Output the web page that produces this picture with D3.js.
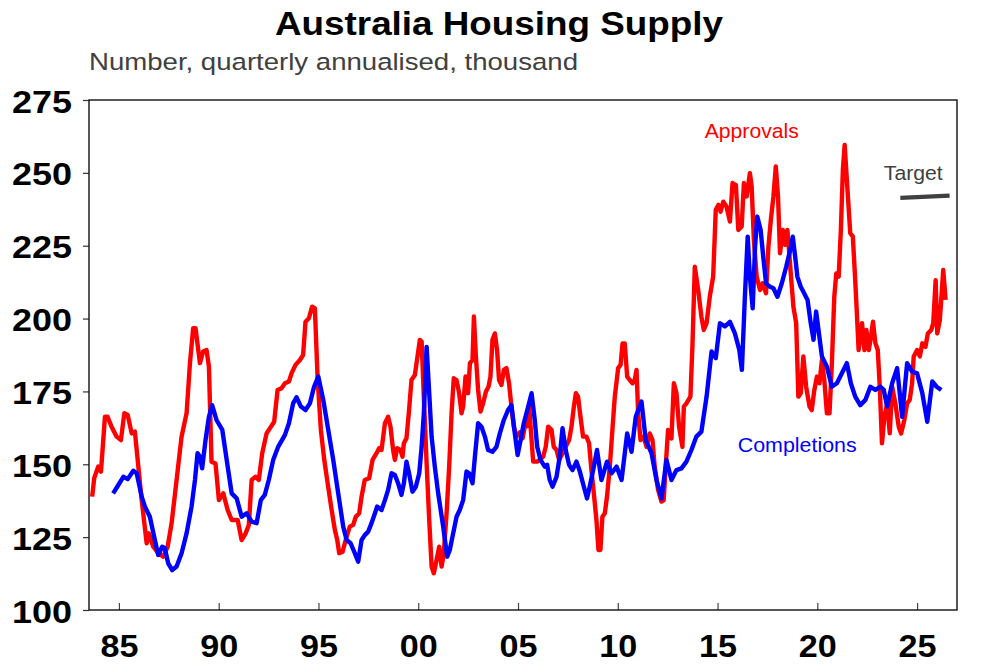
<!DOCTYPE html>
<html>
<head>
<meta charset="utf-8">
<script src="https://cdn.jsdelivr.net/npm/d3@7"></script>
<style>
  html, body { margin: 0; padding: 0; background: #ffffff; }
  svg { display: block; }
  text { font-family: "Liberation Sans", Arial, Helvetica, sans-serif; }
</style>
</head>
<body>
<div id="chart"></div>
<script>
// ---------------- DATA ----------------
const chartTitle = "Australia Housing Supply";
const chartSubtitle = "Number, quarterly annualised, thousand";

const yTicks = [100, 125, 150, 175, 200, 225, 250, 275];
const xTickYears = [1985, 1990, 1995, 2000, 2005, 2010, 2015, 2020, 2025];
const xTickLabels = ["85", "90", "95", "00", "05", "10", "15", "20", "25"];

// Dwelling approvals, annualised, thousand  [decimal year, value]
const approvals = [
  [1983.66,138.9],[1983.76,145.2],[1983.96,149.2],[1984.10,147.5],[1984.30,166.3],[1984.43,166.3],
  [1984.63,162.9],[1984.88,159.5],[1985.10,158.3],[1985.27,167.5],[1985.44,166.9],[1985.64,160.6],
  [1985.80,161.2],[1985.94,151.5],[1986.14,137.7],[1986.39,122.9],[1986.50,126.3],[1986.72,121.7],
  [1986.97,119.5],[1987.22,118.3],[1987.44,121.7],[1987.64,129.8],[1987.89,144.6],[1988.14,159.5],
  [1988.39,167.5],[1988.56,184.7],[1988.72,196.7],[1988.84,196.7],[1989.06,184.7],[1989.22,188.7],
  [1989.39,189.2],[1989.51,183.5],[1989.64,150.9],[1989.84,150.3],[1990.01,137.7],[1990.23,140.0],
  [1990.45,134.3],[1990.65,130.9],[1990.95,130.9],[1991.15,124.0],[1991.35,126.3],[1991.51,129.2],
  [1991.65,144.6],[1991.85,145.7],[1992.01,144.6],[1992.18,153.8],[1992.40,160.6],[1992.57,162.4],
  [1992.78,164.6],[1992.95,175.5],[1993.15,176.1],[1993.32,177.8],[1993.52,178.4],[1993.65,181.2],
  [1993.85,184.1],[1994.07,185.8],[1994.23,187.5],[1994.35,198.9],[1994.52,200.1],[1994.68,204.1],
  [1994.82,203.5],[1994.96,178.9],[1995.12,161.8],[1995.29,151.5],[1995.46,143.5],[1995.66,134.3],
  [1995.82,127.5],[1995.94,124.0],[1996.04,119.5],[1996.21,120.0],[1996.41,125.2],[1996.57,128.6],
  [1996.74,129.2],[1996.87,132.0],[1997.04,133.2],[1997.16,138.9],[1997.32,144.6],[1997.54,145.2],
  [1997.71,151.5],[1997.91,153.8],[1998.04,155.5],[1998.16,154.9],[1998.33,164.1],[1998.49,166.3],
  [1998.61,162.9],[1998.74,154.9],[1998.83,151.5],[1998.94,155.5],[1999.11,154.9],[1999.21,152.6],
  [1999.28,157.2],[1999.41,158.9],[1999.54,168.6],[1999.66,178.9],[1999.83,180.6],[1999.95,186.4],
  [2000.08,192.7],[2000.17,192.1],[2000.28,173.2],[2000.42,150.3],[2000.55,130.9],[2000.67,114.9],
  [2000.78,112.6],[2000.92,117.2],[2001.05,121.7],[2001.17,114.9],[2001.28,119.5],[2001.42,133.2],
  [2001.55,149.2],[2001.67,167.5],[2001.78,179.5],[2001.92,178.9],[2002.05,174.4],[2002.17,167.5],
  [2002.25,169.8],[2002.37,180.1],[2002.50,174.4],[2002.59,184.7],[2002.72,185.8],[2002.79,200.7],
  [2002.89,186.9],[2003.00,175.5],[2003.12,168.1],[2003.25,170.9],[2003.39,174.9],[2003.52,176.6],
  [2003.62,180.1],[2003.72,192.7],[2003.84,194.9],[2003.95,189.2],[2004.05,178.9],[2004.17,177.2],
  [2004.29,182.4],[2004.42,183.0],[2004.55,177.8],[2004.67,169.8],[2004.79,162.9],[2004.92,159.5],
  [2005.09,161.0],[2005.23,158.9],[2005.34,162.9],[2005.46,163.0],[2005.56,169.8],[2005.68,158.3],
  [2005.76,150.9],[2005.96,150.9],[2006.09,151.5],[2006.26,152.6],[2006.39,156.0],[2006.51,162.9],
  [2006.68,161.8],[2006.79,156.0],[2006.93,154.9],[2007.06,151.5],[2007.23,153.8],[2007.39,156.0],
  [2007.56,158.3],[2007.68,162.9],[2007.80,169.8],[2007.90,174.4],[2008.01,173.2],[2008.13,166.3],
  [2008.26,159.5],[2008.43,159.5],[2008.56,157.2],[2008.68,148.0],[2008.80,140.0],[2008.93,130.9],
  [2009.03,120.6],[2009.13,120.6],[2009.23,132.0],[2009.35,133.2],[2009.46,138.9],[2009.60,149.2],
  [2009.73,161.8],[2009.85,173.2],[2010.02,183.0],[2010.14,184.1],[2010.24,191.5],[2010.35,191.5],
  [2010.47,180.1],[2010.60,178.9],[2010.74,177.8],[2010.85,178.9],[2010.94,182.4],[2011.02,167.5],
  [2011.14,158.3],[2011.30,159.5],[2011.44,156.0],[2011.60,160.6],[2011.74,158.3],[2011.85,149.2],
  [2012.02,141.2],[2012.19,137.2],[2012.30,137.7],[2012.40,149.2],[2012.52,161.8],[2012.69,158.9],
  [2012.81,177.8],[2012.94,174.4],[2013.07,162.9],[2013.24,156.0],[2013.31,169.8],[2013.44,170.9],
  [2013.64,173.2],[2013.74,190.3],[2013.86,217.8],[2014.03,209.8],[2014.19,200.7],[2014.31,196.1],
  [2014.45,198.4],[2014.61,207.5],[2014.78,214.4],[2014.91,237.3],[2015.04,239.0],[2015.15,236.7],
  [2015.29,240.1],[2015.45,238.4],[2015.62,233.3],[2015.75,246.5],[2015.92,245.8],[2016.04,230.4],
  [2016.21,231.6],[2016.32,246.5],[2016.46,241.9],[2016.62,249.9],[2016.71,245.3],[2016.82,227.0],
  [2016.96,214.4],[2017.13,209.8],[2017.26,212.1],[2017.43,208.7],[2017.55,224.7],[2017.67,233.8],
  [2017.80,241.9],[2017.92,252.2],[2018.03,241.9],[2018.13,222.4],[2018.27,230.4],[2018.39,225.3],
  [2018.50,230.4],[2018.67,215.5],[2018.80,204.1],[2018.94,198.4],[2019.05,173.2],[2019.17,174.4],
  [2019.30,187.0],[2019.44,176.6],[2019.61,169.8],[2019.72,168.6],[2019.85,175.5],[2019.98,180.1],
  [2020.11,177.8],[2020.23,185.8],[2020.35,178.9],[2020.48,167.5],[2020.61,167.5],[2020.73,184.7],
  [2020.85,207.5],[2020.95,215.5],[2021.07,214.4],[2021.18,230.4],[2021.28,251.0],[2021.37,259.6],
  [2021.48,247.6],[2021.65,229.3],[2021.78,228.1],[2021.90,213.2],[2021.99,200.7],[2022.07,189.2],
  [2022.24,198.4],[2022.36,189.2],[2022.46,196.1],[2022.58,189.2],[2022.69,193.8],[2022.79,198.9],
  [2022.91,191.5],[2023.03,189.2],[2023.13,176.6],[2023.24,157.2],[2023.36,166.3],[2023.50,170.9],
  [2023.63,160.6],[2023.75,176.6],[2023.91,170.9],[2024.08,162.9],[2024.20,160.6],[2024.36,165.2],
  [2024.50,170.9],[2024.63,172.1],[2024.75,177.8],[2024.83,187.0],[2025.00,189.2],[2025.14,187.0],
  [2025.26,191.5],[2025.42,190.3],[2025.54,194.9],[2025.71,196.1],[2025.81,198.4],[2025.93,213.2],
  [2026.01,194.9],[2026.14,199.5],[2026.31,216.7],[2026.43,206.4]
];

// Dwelling completions, annualised, thousand  [decimal year, value]
const completions = [
  [1984.71,140.0],[1984.97,142.9],[1985.22,145.7],[1985.44,144.9],[1985.72,147.8],[1985.89,146.9],
  [1986.14,138.9],[1986.30,135.5],[1986.55,132.0],[1986.80,124.0],[1986.97,118.9],[1987.17,121.7],
  [1987.30,121.2],[1987.47,116.0],[1987.67,113.7],[1987.89,114.9],[1988.14,119.5],[1988.39,126.3],
  [1988.64,135.5],[1988.81,144.6],[1988.94,153.8],[1989.06,152.6],[1989.17,148.6],[1989.34,158.3],
  [1989.51,166.3],[1989.67,170.3],[1989.89,165.2],[1990.18,161.8],[1990.40,151.5],[1990.65,140.0],
  [1990.90,138.3],[1991.15,132.0],[1991.40,133.2],[1991.65,130.3],[1991.90,129.8],[1992.11,137.7],
  [1992.31,139.5],[1992.51,144.6],[1992.73,151.5],[1992.98,156.0],[1993.32,160.1],[1993.52,164.1],
  [1993.73,170.9],[1993.90,173.0],[1994.12,169.8],[1994.35,168.6],[1994.57,170.9],[1994.78,176.6],
  [1994.99,180.1],[1995.24,172.1],[1995.49,161.8],[1995.74,151.5],[1995.99,140.0],[1996.24,128.6],
  [1996.41,124.0],[1996.61,122.9],[1996.82,119.5],[1996.99,116.6],[1997.16,124.0],[1997.32,125.7],
  [1997.49,126.9],[1997.66,129.8],[1997.83,133.2],[1997.94,135.5],[1998.16,134.3],[1998.33,137.7],
  [1998.49,141.2],[1998.66,146.9],[1998.83,146.3],[1998.99,143.5],[1999.16,139.5],[1999.28,143.5],
  [1999.41,150.9],[1999.54,146.9],[1999.71,140.6],[1999.88,142.3],[2000.05,146.9],[2000.17,156.0],
  [2000.28,167.5],[2000.42,190.3],[2000.55,174.4],[2000.67,159.5],[2000.83,149.2],[2001.00,140.0],
  [2001.25,128.6],[2001.45,118.3],[2001.58,120.6],[2001.75,126.3],[2001.92,132.0],[2002.08,134.3],
  [2002.25,137.7],[2002.42,147.5],[2002.55,146.9],[2002.72,143.5],[2002.84,152.6],[2003.00,164.1],
  [2003.17,162.9],[2003.34,159.5],[2003.50,154.9],[2003.72,154.3],[2003.92,156.0],[2004.09,160.6],
  [2004.29,165.2],[2004.50,168.6],[2004.67,170.3],[2004.84,160.6],[2004.98,153.2],[2005.13,158.3],
  [2005.29,164.1],[2005.51,169.8],[2005.68,174.4],[2005.84,165.2],[2005.96,156.0],[2006.13,151.5],
  [2006.34,149.2],[2006.46,149.8],[2006.59,144.6],[2006.73,142.3],[2006.93,145.7],[2007.09,152.6],
  [2007.23,162.4],[2007.39,154.9],[2007.56,149.8],[2007.73,148.0],[2007.93,150.9],[2008.10,147.5],
  [2008.30,142.3],[2008.46,138.3],[2008.63,143.5],[2008.80,149.2],[2008.96,154.9],[2009.18,144.6],
  [2009.46,150.9],[2009.68,146.9],[2009.94,149.2],[2010.19,144.6],[2010.47,160.6],[2010.69,154.3],
  [2010.90,166.3],[2011.19,171.5],[2011.40,158.3],[2011.69,153.8],[2011.94,144.6],[2012.19,138.3],
  [2012.44,151.5],[2012.69,144.6],[2012.94,148.0],[2013.19,148.6],[2013.44,150.9],[2013.69,154.9],
  [2013.94,159.5],[2014.19,161.2],[2014.45,173.2],[2014.70,188.7],[2014.91,186.4],[2015.12,198.4],
  [2015.37,197.3],[2015.62,198.9],[2015.87,194.9],[2016.09,189.2],[2016.22,182.4],[2016.37,207.5],
  [2016.51,228.1],[2016.62,214.4],[2016.76,203.5],[2016.88,224.7],[2016.99,235.0],[2017.16,230.4],
  [2017.29,221.2],[2017.43,212.1],[2017.63,210.9],[2017.80,210.4],[2018.00,207.5],[2018.22,212.1],
  [2018.44,217.8],[2018.64,223.5],[2018.77,228.1],[2018.89,221.2],[2019.00,214.4],[2019.17,210.9],
  [2019.34,208.7],[2019.51,206.4],[2019.67,198.4],[2019.81,192.7],[2019.94,202.4],[2020.06,196.1],
  [2020.23,187.0],[2020.48,183.5],[2020.73,176.6],[2020.98,177.8],[2021.23,181.2],[2021.48,184.7],
  [2021.68,177.8],[2021.90,173.2],[2022.15,170.3],[2022.41,172.1],[2022.66,176.6],[2022.91,175.5],
  [2023.16,176.6],[2023.33,175.5],[2023.50,169.8],[2023.75,177.8],[2024.00,183.0],[2024.25,166.3],
  [2024.50,184.7],[2024.75,181.8],[2025.00,181.2],[2025.26,174.4],[2025.51,164.6],[2025.76,178.4],
  [2025.98,176.6],[2026.21,175.5]
];

// Target (1.2 million over five years)
const target = [[2024.16, 241.4], [2026.63, 242.2]];

// Series labels [text, decimal year, value, colour, width]
const seriesLabels = [
  ["Approvals", 2014.36, 262.0, "#ff0000", 94],
  ["Target", 2023.33, 247.6, "#404040", 59],
  ["Completions", 2016.01, 154.2, "#0000ff", 119]
];

// ---------------- CHART ----------------
const W = 1002, H = 672;
const M = { left: 89, right: 957, top: 100, bottom: 610 };
const FONT = '"Liberation Sans", Arial, Helvetica, sans-serif';

const svg = d3.select("#chart").append("svg")
  .attr("width", W).attr("height", H)
  .attr("viewBox", `0 0 ${W} ${H}`);

svg.append("rect").attr("width", W).attr("height", H).attr("fill", "#ffffff");

const x = d3.scaleLinear().domain([1983.5, 2027.0]).range([M.left, M.right]);
const y = d3.scaleLinear().domain([100, 275]).range([M.bottom, M.top]);

// Title & subtitle
svg.append("text")
  .attr("x", 499).attr("y", 35)
  .attr("text-anchor", "middle")
  .attr("font-size", 32.5).attr("font-weight", "bold")
  .attr("fill", "#000")
  .attr("textLength", 448).attr("lengthAdjust", "spacingAndGlyphs")
  .text(chartTitle);

svg.append("text")
  .attr("x", 89).attr("y", 70.3)
  .attr("font-size", 23.7)
  .attr("fill", "#404040")
  .attr("textLength", 489).attr("lengthAdjust", "spacingAndGlyphs")
  .text(chartSubtitle);

// Axes
const yAxis = d3.axisLeft(y).tickValues(yTicks).tickSize(6).tickSizeOuter(0).tickFormat(d3.format("d"));
const gy = svg.append("g").attr("transform", `translate(${M.left},0)`).call(yAxis);
gy.select(".domain").remove();
gy.selectAll(".tick line").attr("stroke", "#333").attr("stroke-width", 1.2);
gy.selectAll(".tick text")
  .attr("x", -17).attr("dy", null).attr("y", 12)
  .attr("font-family", FONT)
  .attr("font-size", 31.5).attr("font-weight", "bold").attr("fill", "#000")
  .attr("textLength", 60).attr("lengthAdjust", "spacingAndGlyphs");

const xAxis = d3.axisBottom(x).tickValues(xTickYears).tickSizeInner(-7).tickSizeOuter(0)
  .tickFormat((d, i) => xTickLabels[i]);
const gx = svg.append("g").attr("transform", `translate(0,${M.bottom})`).call(xAxis);
gx.select(".domain").remove();
gx.selectAll(".tick line").attr("stroke", "#444").attr("stroke-width", 1.2);
gx.selectAll(".tick text")
  .attr("y", 46.5).attr("dy", null)
  .attr("font-family", FONT)
  .attr("font-size", 31.5).attr("font-weight", "bold").attr("fill", "#000")
  .attr("textLength", 38).attr("lengthAdjust", "spacingAndGlyphs");

// Frame
svg.append("rect")
  .attr("x", M.left).attr("y", M.top)
  .attr("width", M.right - M.left).attr("height", M.bottom - M.top)
  .attr("fill", "none").attr("stroke", "#111").attr("stroke-width", 1.4);

// Lines
const line = d3.line().x(d => x(d[0])).y(d => y(d[1]));

svg.append("path").datum(approvals)
  .attr("d", line).attr("fill", "none")
  .attr("stroke", "#ff0000").attr("stroke-width", 4.4)
  .attr("stroke-linejoin", "round");

svg.append("path").datum(completions)
  .attr("d", line).attr("fill", "none")
  .attr("stroke", "#0000ff").attr("stroke-width", 4.4)
  .attr("stroke-linejoin", "round");

svg.append("path").datum(target)
  .attr("d", line).attr("fill", "none")
  .attr("stroke", "#404040").attr("stroke-width", 4.4);

// Series labels
seriesLabels.forEach(([t, yr, v, c, len]) => {
  svg.append("text")
    .attr("x", x(yr)).attr("y", y(v))
    .attr("font-size", 20.5).attr("fill", c)
    .attr("textLength", len).attr("lengthAdjust", "spacingAndGlyphs")
    .text(t);
});
</script>
</body>
</html>
